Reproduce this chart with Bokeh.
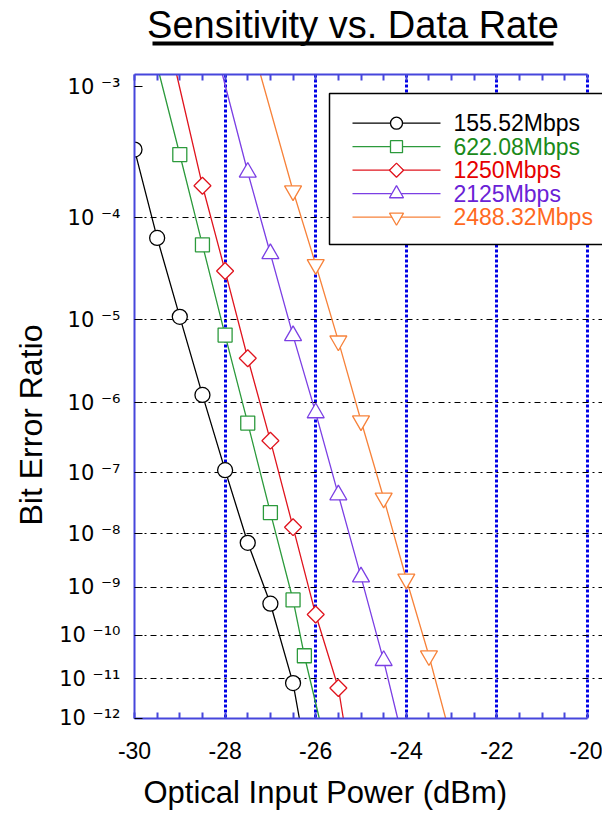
import numpy as np
from bokeh.plotting import figure
from bokeh.layouts import column
from bokeh.models import Range1d, FixedTicker, LinearAxis, Title
from bokeh.core.properties import value
from bokeh.embed import file_html
from bokeh.resources import INLINE

# ---------------- data ----------------
chart_title = "Sensitivity vs. Data Rate"
x_title = "Optical Input Power (dBm)"
y_title = "Bit Error Ratio"
series_names = ["155.52Mbps", "622.08Mbps", "1250Mbps", "2125Mbps", "2488.32Mbps"]
line_colors = ["#000000", "#2c9a3c", "#e0141e", "#7b3fe4", "#f7823a"]
text_colors = ["#000000", "#1a8a1a", "#e60000", "#6a22d6", "#ff6a1f"]

# measured points (dBm, bit error ratio)
x_155 = [-30.0, -29.5, -29.0, -28.5, -28.0, -27.5, -27.0, -26.5]
ber_155 = [3.6e-4, 6.6e-5, 1.07e-5, 1.26e-6, 1.1e-7, 6.9e-9, 4.7e-10, 7.9e-12]
x_622 = [-29.0, -28.5, -28.0, -27.5, -27.0, -26.5, -26.25]
ber_622 = [3.3e-4, 5.7e-5, 6.7e-6, 5.3e-7, 2.3e-8, 5.6e-10, 3.5e-11]
x_1250 = [-28.5, -28.0, -27.5, -27.0, -26.5, -26.0, -25.5]
ber_1250 = [1.87e-4, 3.2e-5, 3.6e-6, 3.0e-7, 1.3e-8, 2.8e-10, 6.0e-12]
x_2125 = [-27.5, -27.0, -26.5, -26.0, -25.5, -25.0, -24.5]
ber_2125 = [2.4e-4, 4.7e-5, 6.6e-6, 7.3e-7, 4.5e-8, 1.6e-9, 2.7e-11]
x_2488 = [-26.5, -26.0, -25.5, -25.0, -24.5, -24.0, -23.5]
ber_2488 = [1.7e-4, 3.7e-5, 5.75e-6, 5.7e-7, 4.0e-8, 1.46e-9, 3.5e-11]

# extrapolated fit ends (top end, bottom end) of each curve
fit_top_x = [None, -29.45, -29.07, -28.06, -27.22]
fit_top_ber = [None, 1.2e-3, 1.2e-3, 1.2e-3, 1.2e-3]
fit_bot_x = [-26.36, -25.92, -25.39, -24.19, -23.13]
fit_bot_ber = [1e-12, 1e-12, 1e-12, 1e-12, 1e-12]

x_ticks = [-30, -28, -26, -24, -22, -20]
x_tick_labels = ["-30", "-28", "-26", "-24", "-22", "-20"]
x_minor = [-29.5, -29, -28.5, -27.5, -27, -26.5, -25.5, -25, -24.5,
           -23.5, -23, -22.5, -21.5, -21, -20.5]
x_grid_vals = [-28, -26, -24, -22, -20]

y_tick_ber = [1e-3, 1e-4, 1e-5, 1e-6, 1e-7, 1e-8, 1e-9, 1e-10, 1e-11, 1e-12]
y_tick_labels = ["10 ⁻³", "10 ⁻⁴", "10 ⁻⁵", "10 ⁻⁶", "10 ⁻⁷", "10 ⁻⁸",
                 "10 ⁻⁹", "10 ⁻¹⁰", "10 ⁻¹¹", "10 ⁻¹²"]
y_grid_ber = [1e-4, 1e-5, 1e-6, 1e-7, 1e-8, 1e-9, 1e-10, 1e-11]
y_top_ber, y_bottom_ber = 1.2e-3, 1e-12
x_min, x_max = -30.0, -20.0


def tr(b):
    """BER scale: log10(-log10(BER))."""
    return np.log10(-np.log10(np.asarray(b, dtype=float)))


FONT = "Liberation Sans"
W = 602
H1 = 60                  # title strip
H2 = 761                 # main figure
F_LEFT, F_TOP = 134, 14  # frame offsets inside main figure
F_W, F_H = 453, 644      # frame size spanning x_min..x_max
EXTRA_R = W - F_LEFT - F_W  # frame continues to the right page edge

T_TOP, T_BOT = float(tr(y_top_ber)), float(tr(y_bottom_ber))
x_end = x_max + EXTRA_R * (x_max - x_min) / F_W


def xd(px):   # picture x pixel -> data x (legend layout only)
    return x_min + (px - F_LEFT) * (x_max - x_min) / F_W


def yd(py):   # picture y pixel -> transformed y (legend layout only)
    return T_TOP + (py - H1 - F_TOP) * (T_BOT - T_TOP) / F_H


# ---------------- title strip ----------------
tf = figure(width=W, height=H1, x_range=Range1d(F_LEFT, W), y_range=Range1d(H1, 0),
            output_backend="svg", toolbar_location=None, title=None,
            x_axis_location=None, y_axis_location=None,
            min_border_left=F_LEFT, min_border_right=0,
            min_border_top=0, min_border_bottom=0)
tf.grid.visible = False
tf.outline_line_color = None
tf.text(x=[352.5], y=[24], text=[chart_title], text_align="center",
        text_baseline="middle", text_font=value(FONT),
        text_font_size="38px", text_color="black")
tf.line(x=[152, 553], y=[43, 43], line_width=4, line_color="black")

# ---------------- main figure ----------------
p = figure(width=W, height=H2,
           x_range=Range1d(x_min, x_end),
           y_range=Range1d(T_BOT, T_TOP),
           output_backend="svg", toolbar_location=None,
           min_border_left=F_LEFT, min_border_right=0,
           min_border_top=F_TOP, min_border_bottom=H2 - F_TOP - F_H,
           background_fill_color="white", border_fill_color="white")
p.outline_line_color = None

AXBLUE = "#4646dc"
GRIDBLUE = "#0000e6"

xa = p.xaxis[0]
xa.ticker = FixedTicker(ticks=x_ticks, minor_ticks=x_minor)
xa.bounds = (x_min, x_max)
xa.major_label_overrides = {t: l for t, l in zip(x_ticks, x_tick_labels)}
xa.axis_line_color = AXBLUE
xa.axis_line_width = 2
xa.major_tick_line_color = AXBLUE
xa.minor_tick_line_color = AXBLUE
xa.major_tick_line_width = 2
xa.minor_tick_line_width = 2
xa.major_tick_in, xa.major_tick_out = 6, 0
xa.minor_tick_in, xa.minor_tick_out = 6, 0
xa.major_label_text_font = FONT
xa.major_label_text_font_size = "23px"
xa.major_label_text_color = "black"
xa.major_label_standoff = 23

y_tick_vals = [round(float(v), 6) for v in tr(y_tick_ber)]
ya = p.yaxis[0]
ya.ticker = FixedTicker(ticks=y_tick_vals)
ya.major_label_overrides = {v: l for v, l in zip(y_tick_vals, y_tick_labels)}
ya.axis_line_color = AXBLUE
ya.axis_line_width = 2
ya.major_tick_line_color = "black"
ya.major_tick_in, ya.major_tick_out = 8, 0
ya.minor_tick_line_color = None
ya.major_label_text_font = "DejaVu Sans"
ya.major_label_text_font_size = "21px"
ya.major_label_text_color = "black"
ya.major_label_standoff = 14

ta = LinearAxis(ticker=FixedTicker(ticks=[], minor_ticks=x_ticks + x_minor))
ta.bounds = (x_min, x_max)
ta.axis_line_color = AXBLUE
ta.axis_line_width = 2
ta.minor_tick_line_color = AXBLUE
ta.minor_tick_line_width = 2
ta.minor_tick_in, ta.minor_tick_out = 6, 0
ta.major_tick_line_color = None
ta.major_label_standoff = 0
p.add_layout(ta, "above")

p.add_layout(Title(text=x_title, align="left", offset=9, standoff=23,
                   text_font=FONT, text_font_size="31px",
                   text_font_style="normal", text_color="black"), "below")
p.add_layout(Title(text=y_title, align="left", offset=193, standoff=16,
                   text_font=FONT, text_font_size="32px",
                   text_font_style="normal", text_color="black"), "left")

p.xgrid.ticker = FixedTicker(ticks=x_grid_vals)
p.xgrid.grid_line_color = GRIDBLUE
p.xgrid.grid_line_width = 3
p.xgrid.grid_line_dash = "3 2"
p.ygrid.ticker = FixedTicker(ticks=[float(v) for v in tr(y_grid_ber)])
p.ygrid.grid_line_color = "black"
p.ygrid.grid_line_width = 1
p.ygrid.grid_line_dash = "6 4 2 4"

# ---------------- series ----------------
xs = [x_155, x_622, x_1250, x_2125, x_2488]
bers = [ber_155, ber_622, ber_1250, ber_2125, ber_2488]
markers = ["circle", "square", "square", "triangle", "inverted_triangle"]
sizes = [15, 14, 12, 17, 17]
leg_sizes = [12, 12, 10, 14, 14]
angles = [0, 0, np.pi / 4, 0, 0]

for i in range(5):
    lx = list(xs[i])
    lb = list(bers[i])
    if fit_top_x[i] is not None:
        lx = [fit_top_x[i]] + lx
        lb = [fit_top_ber[i]] + lb
    lx = lx + [fit_bot_x[i]]
    lb = lb + [fit_bot_ber[i]]
    p.line(lx, tr(lb), line_color=line_colors[i], line_width=1.3)
    p.scatter(xs[i], tr(bers[i]), marker=markers[i], size=sizes[i],
              angle=angles[i], line_color=line_colors[i],
              fill_color="white", line_width=1.3)

# ---------------- legend (drawn in the frame) ----------------
p.quad(left=[xd(329)], right=[xd(660)], top=[yd(93)], bottom=[yd(244)],
       fill_color="white", line_color="black", line_width=1.5)
row_y = [yd(122.7 + 23.5 * i) for i in range(5)]
p.segment(x0=[xd(352)] * 5, y0=row_y, x1=[xd(440)] * 5, y1=row_y,
          line_color=line_colors, line_width=1.3)
for i in range(5):
    p.scatter([xd(396)], [row_y[i]], marker=markers[i], size=leg_sizes[i],
              angle=angles[i], line_color=line_colors[i], fill_color="white",
              line_width=1.3)
p.text(x=[xd(453)] * 5, y=row_y, text=series_names, text_color=text_colors,
       text_align="left", text_baseline="middle", text_font=value(FONT),
       text_font_size="23px")

open("out.html", "w").write(file_html(column(tf, p, spacing=0), INLINE))
